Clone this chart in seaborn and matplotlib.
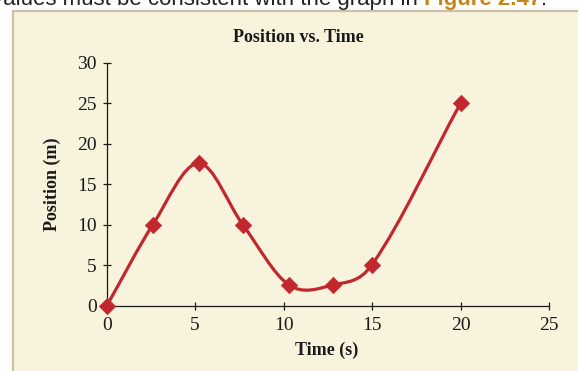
import numpy as np
import pandas as pd
import matplotlib
matplotlib.use('Agg')
import matplotlib.pyplot as plt
from matplotlib.path import Path
from matplotlib.patches import PathPatch, Rectangle
import seaborn as sns

# values
time_s = [0, 2.6, 5.2, 7.7, 10.3, 12.8, 15, 20]
position_m = [0, 10, 17.6, 10, 2.6, 2.6, 5.1, 25]
x_ticks = [0, 5, 10, 15, 20, 25]
y_ticks = [0, 5, 10, 15, 20, 25, 30]

df = pd.DataFrame({'time': time_s, 'position': position_m})

red = '#c0282e'
panel = '#f8f3dc'

sns.set_style('white')
plt.rcParams['font.family'] = ['Liberation Serif', 'DejaVu Serif']

fig = plt.figure(figsize=(5.78, 3.71), dpi=100)
W, H = 578, 371

# beige panel of the textbook page
fig.patches.append(Rectangle((13 / W, -0.05), 1.1, 1 - 11 / H + 0.05,
                             transform=fig.transFigure, facecolor=panel,
                             edgecolor='#cbbfa8', linewidth=1.6, zorder=-5))

# clipped sentence above the panel
renderer = fig.canvas.get_renderer()
x0 = -8
for txt, col, wt in [('values must be consistent with the graph in ', '#222222', 'normal'),
                     ('Figure 2.47', '#c4861a', 'bold'),
                     ('.', '#222222', 'normal')]:
    t = fig.text(x0 / W, 1 - 5 / H, txt, family='Liberation Sans', fontsize=16,
                 color=col, fontweight=wt, va='baseline')
    x0 += t.get_window_extent(renderer).width

ax = fig.add_axes([106.7 / W, 65 / H, (549 - 106.7) / W, (306 - 62.7) / H])
ax.set_facecolor('none')

# smooth curve through the points (cubic Hermite drawn as bezier segments)
x = np.array(time_s, dtype=float)
y = np.array(position_m, dtype=float)
slope = np.empty_like(y)
slope[1:-1] = (y[2:] - y[:-2]) / (x[2:] - x[:-2])
slope[0] = (y[1] - y[0]) / (x[1] - x[0])
slope[-1] = (y[-1] - y[-2]) / (x[-1] - x[-2])
verts = [(x[0], y[0])]
codes = [Path.MOVETO]
for i in range(len(x) - 1):
    d = (x[i + 1] - x[i]) / 3
    verts += [(x[i] + d, y[i] + slope[i] * d),
              (x[i + 1] - d, y[i + 1] - slope[i + 1] * d),
              (x[i + 1], y[i + 1])]
    codes += [Path.CURVE4] * 3
ax.add_patch(PathPatch(Path(verts, codes), facecolor='none', edgecolor=red,
                       linewidth=2.3, capstyle='round', zorder=2, clip_on=False))

sns.scatterplot(data=df, x='time', y='position', marker='D', s=70,
                color=red, edgecolor=red, linewidth=0.5, ax=ax, zorder=3,
                clip_on=False)

ax.set_xlim(0, 25)
ax.set_ylim(0, 30)
ax.set_xticks(x_ticks)
ax.set_yticks(y_ticks)
ax.spines['top'].set_visible(False)
ax.spines['right'].set_visible(False)
for s in ['left', 'bottom']:
    ax.spines[s].set_linewidth(0.9)
    ax.spines[s].set_color('#1a1a1a')
ax.tick_params(direction='inout', length=6, width=0.9, color='#1a1a1a',
               labelsize=14, labelcolor='#1a1a1a', left=True, bottom=True)
ax.tick_params(axis='x', pad=5)
ax.tick_params(axis='y', pad=4)
ax.set_xlabel('')
ax.set_ylabel('')

fig.text(298 / W, 1 - 38 / H, 'Position vs. Time', ha='center', va='center',
         fontsize=13, fontweight='bold', color='#1a1a1a')
fig.text(327 / W, 1 - 350 / H, 'Time (s)', ha='center', va='center',
         fontsize=13, fontweight='bold', color='#1a1a1a')
fig.text(52 / W, 1 - 184 / H, 'Position (m)', ha='center', va='center',
         rotation=90, fontsize=13, fontweight='bold', color='#1a1a1a')

fig.savefig('out.png', dpi=100, facecolor='white')
